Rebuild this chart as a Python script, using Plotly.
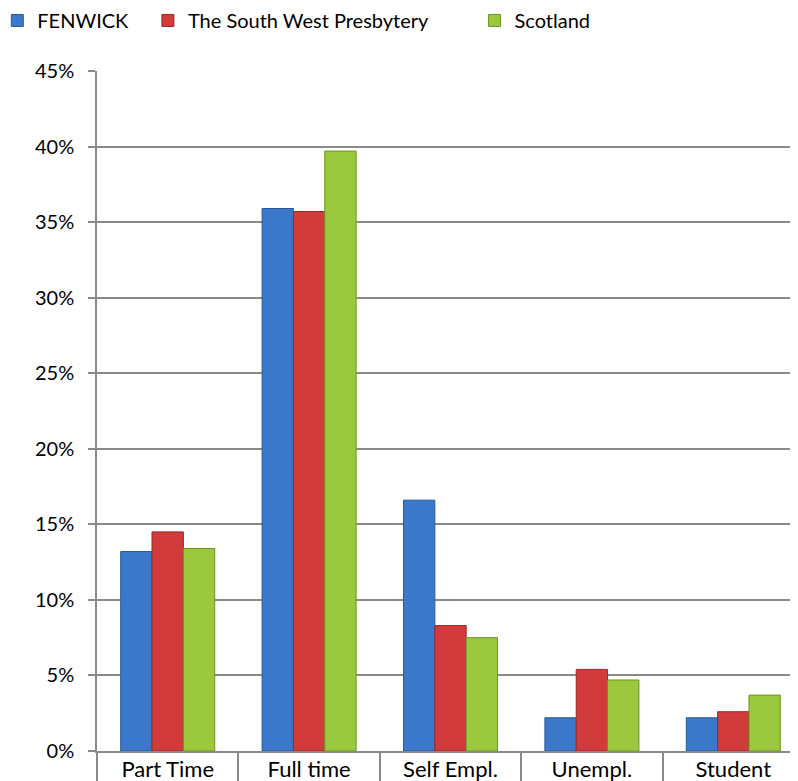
import plotly.graph_objects as go

categories = ["Part Time", "Full time", "Self Empl.", "Unempl.", "Student"]
fenwick = [13.2, 35.9, 16.6, 2.2, 2.2]
south_west = [14.5, 35.7, 8.3, 5.4, 2.6]
scotland = [13.4, 39.7, 7.5, 4.7, 3.7]
series_names = ["FENWICK", "The South West Presbytery", "Scotland"]
y_ticks = [0, 5, 10, 15, 20, 25, 30, 35, 40, 45]
y_tick_labels = [f"{v}%" for v in y_ticks]

colors = ["#3b78c9", "#d23b3b", "#9cc83e"]
edges = ["#2a5a9c", "#9c2626", "#6f9327"]
legend_ids = ["legend", "legend2", "legend3"]
legend_x = [-0.141, 0.072, 0.534]

fig = go.Figure()
for name, vals, c, e, lid in zip(series_names, [fenwick, south_west, scotland], colors, edges, legend_ids):
    fig.add_trace(go.Bar(
        x=categories, y=vals, name=name, legend=lid,
        marker=dict(color=c, line=dict(color=e, width=1)),
    ))

legend_common = dict(orientation="h", y=1.103, xref="paper", yref="paper",
                     xanchor="left", yanchor="top", font=dict(size=20),
                     bgcolor="rgba(0,0,0,0)")
fig.update_layout(
    width=798, height=781,
    margin=dict(l=89, r=2, t=63, b=38, autoexpand=False),
    barmode="group", bargap=0.335, bargroupgap=0,
    plot_bgcolor="white", paper_bgcolor="white",
    font=dict(family="Lato, Carlito, sans-serif", size=21, color="#000000"),
    legend=dict(x=legend_x[0], **legend_common),
    legend2=dict(x=legend_x[1], **legend_common),
    legend3=dict(x=legend_x[2], **legend_common),
    showlegend=True,
)
fig.update_yaxes(
    range=[0, 45], tickvals=y_ticks, ticktext=y_tick_labels,
    tickfont=dict(size=20),
    showgrid=True, gridcolor="#8a8a8a", gridwidth=1.5,
    showline=True, linecolor="#8a8a8a", linewidth=1.5,
    ticks="outside", ticklen=7, tickcolor="#8a8a8a", tickwidth=1.5,
    ticklabelstandoff=10, zeroline=False, automargin=False,
)
fig.update_xaxes(
    tickfont=dict(size=22),
    showline=True, linecolor="#8a8a8a", linewidth=1.5,
    ticks="outside", tickson="boundaries", ticklen=30, tickcolor="#8a8a8a", tickwidth=1.5,
    ticklabelstandoff=-2, showgrid=False, automargin=False,
)
fig.write_html("out.html")
